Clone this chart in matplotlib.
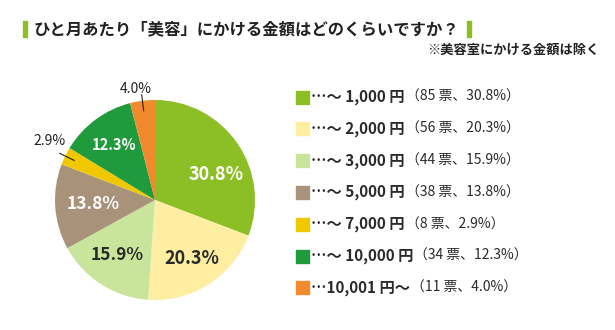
import matplotlib
matplotlib.use('Agg')
import matplotlib.pyplot as plt
from matplotlib.patches import Rectangle
import numpy as np

plt.rcParams['font.family'] = ['Noto Sans CJK JP', 'DejaVu Sans']

# data
ranges = ['…〜 1,000 円', '…〜 2,000 円', '…〜 3,000 円', '…〜 5,000 円',
          '…〜 7,000 円', '…〜 10,000 円', '…10,001 円〜']
votes = [85, 56, 44, 38, 8, 34, 11]
shares = [30.8, 20.3, 15.9, 13.8, 2.9, 12.3, 4.0]
colors = ['#8cbf26', '#fdeea2', '#c9e59c', '#a8927a', '#efc800', '#1f9a3c', '#f08a2c']

W, H = 615, 330
fig = plt.figure(figsize=(W / 100, H / 100), dpi=100)


def fx(x):
    return x / W


def fy(y):
    return 1 - y / H


# title
fig.patches.append(Rectangle((fx(23), fy(37)), fx(4), 16 / H, color='#8cbf26', transform=fig.transFigure))
fig.patches.append(Rectangle((fx(467), fy(37)), fx(4), 16 / H, color='#8cbf26', transform=fig.transFigure))
fig.text(fx(34), fy(29), 'ひと月あたり「美容」にかける金額はどのくらいですか？',
         fontsize=11.8, fontweight='bold', color='#222222', va='center', ha='left')
fig.text(fx(599), fy(50), '※美容室にかける金額は除く',
         fontsize=9.5, fontweight='bold', color='#222222', va='center', ha='right')

# pie
cx, cy, r = 155, 200, 100
ax = fig.add_axes([fx(cx - r), fy(cy + r), 2 * r / W, 2 * r / H])
wedges, _ = ax.pie(shares, colors=colors, startangle=90, counterclock=False,
                   wedgeprops=dict(linewidth=0))
ax.set_xlim(-1, 1)
ax.set_ylim(-1, 1)
ax.set_aspect('equal')
ax.axis('off')

inner_dist = [0.66, 0.69, 0.67, 0.62, None, 0.68, None]
inner_shift = [-12, 0, -2, 0, 0, 0, 0]
inner_size = [13, 13, 12.5, 12.5, 0, 10.5, 0]
inner_col = ['white', '#2a2a2a', '#2a2a2a', 'white', None, 'white', None]
outer_dist = [0, 0, 0, 0, 1.21, 0, 1.13]
outer_shift = [0, 0, 0, 0, -3, 0, 2.5]
for i, w in enumerate(wedges):
    mid = (w.theta1 + w.theta2) / 2
    lab = f'{shares[i]:.1f}%'
    if inner_dist[i] is not None:
        d = inner_dist[i]
        a = np.deg2rad(mid + inner_shift[i])
        ax.text(d * np.cos(a), d * np.sin(a), lab, ha='center', va='center',
                fontsize=inner_size[i], fontweight='bold', color=inner_col[i])
    else:
        a = np.deg2rad(mid)
        ax.plot([0.9 * np.cos(a), 1.06 * np.cos(a)],
                [0.9 * np.sin(a), 1.06 * np.sin(a)],
                color='#222222', lw=0.8, clip_on=False)
        a2 = np.deg2rad(mid + outer_shift[i])
        ax.text(outer_dist[i] * np.cos(a2), outer_dist[i] * np.sin(a2), lab,
                ha='center', va='center', fontsize=10, color='#222222')

# legend
renderer = fig.canvas.get_renderer()
y0, dy = 97, 31.8
for i in range(len(ranges)):
    y = y0 + i * dy
    fig.patches.append(Rectangle((fx(296), fy(y + 6.5)), fx(13), 13 / H,
                                 color=colors[i], transform=fig.transFigure))
    t = fig.text(fx(311), fy(y), ranges[i], fontsize=11, fontweight='bold',
                 color='#2a2a2a', va='center', ha='left')
    bb = t.get_window_extent(renderer)
    fig.text(bb.x1 / W + fx(1), fy(y), f'（{votes[i]} 票、{shares[i]:.1f}%）',
             fontsize=10, color='#2a2a2a', va='center', ha='left')

fig.savefig('out.png', dpi=100)
